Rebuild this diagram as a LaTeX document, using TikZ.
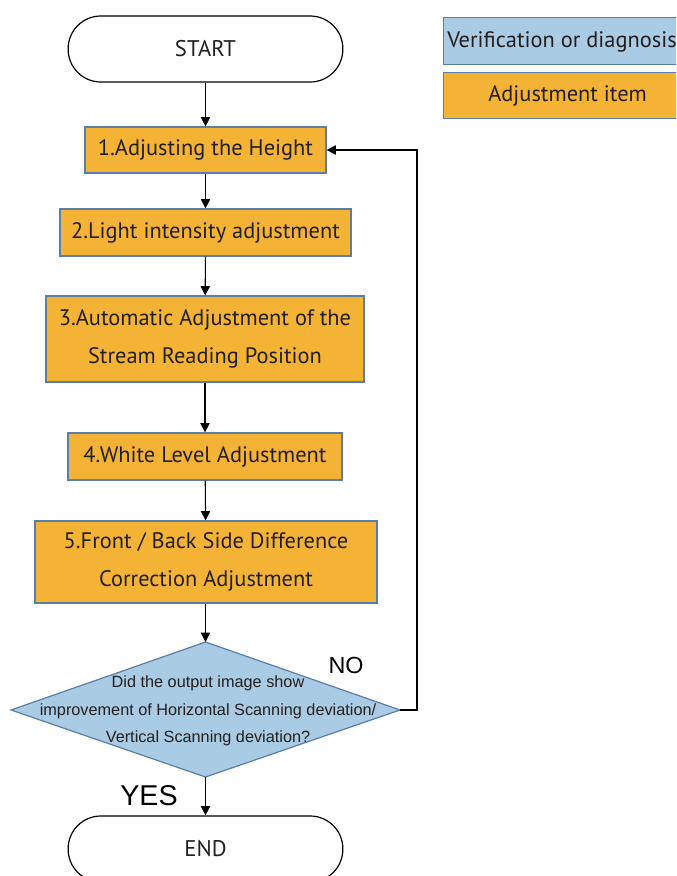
\documentclass[tikz,border=0pt]{standalone}
\usepackage{fontspec}
\setmainfont{PT Sans}
\newfontfamily\arialf{Liberation Sans}
\usetikzlibrary{shapes.geometric,arrows.meta}
\definecolor{adj}{HTML}{F5B335}
\definecolor{ver}{HTML}{A9CBE3}
\definecolor{bord}{HTML}{5A7FA6}
\definecolor{txt}{HTML}{231F20}
\begin{document}
\begin{tikzpicture}[x=0.75pt,y=-0.75pt,
  adjbox/.style={draw=bord,fill=adj,line width=0.9pt,text=txt,font=\fontsize{16.8}{28}\selectfont,align=center,inner sep=0pt},
  verbox/.style={draw=bord,fill=ver,line width=0.9pt,text=txt,font=\fontsize{16.8}{28}\selectfont,align=center,inner sep=0pt},
  term/.style={draw=black,line width=0.9pt,rounded corners=24.5pt,text=txt,font=\fontsize{17}{19}\selectfont,inner sep=0pt},
  conn/.style={draw=black,line width=0.8pt,-{Triangle[length=7pt,width=7pt]}}]
\clip (0,0) rectangle (676,876);
\useasboundingbox (0,0) rectangle (676,876);
% terminals
\node[term,minimum width=206pt,minimum height=49.5pt] (start) at (205.5,49) {START};
\node[term,minimum width=206pt,minimum height=49.5pt] (end) at (205.5,849) {END};
% boxes
\node[adjbox,minimum width=180.75pt,minimum height=34.5pt] (b1) at (205.5,150) {1.Adjusting the Height};
\node[adjbox,minimum width=218.25pt,minimum height=35.25pt] (b2) at (205.5,232.5) {2.Light intensity adjustment};
\node[adjbox,minimum width=238.5pt,minimum height=64.5pt] (b3) at (205,339) {3.Automatic Adjustment of the\\Stream Reading Position};
\node[adjbox,minimum width=205.5pt,minimum height=35.25pt] (b4) at (205,456.5) {4.White Level Adjustment};
\node[adjbox,minimum width=256.5pt,minimum height=61.5pt] (b5) at (206,562) {5.Front / Back Side Difference\\Correction Adjustment};
% decision
\path[draw=bord,fill=ver,line width=0.9pt] (205.5,642) coordinate (dt) -- (400,710) coordinate (dr) -- (205.5,777) coordinate (db) -- (11,710) coordinate (dl) -- cycle;
\node[text=txt,font=\arialf\fontsize{12.2}{20.5}\selectfont,align=center] (dtext) at (208,711) {Did the output image show\\improvement of Horizontal Scanning deviation/\\Vertical Scanning deviation?};
% legend
\node[verbox,minimum width=186pt,minimum height=35.25pt,anchor=north west] (lv) at (443,17) {};
\node[text=txt,font=\fontsize{16.8}{19}\selectfont,anchor=west,inner sep=0pt] (lvt) at (447,41.5) {Verification or diagnosis};
\node[adjbox,minimum width=186pt,minimum height=34.5pt,anchor=north west] (la) at (443,72) {Adjustment item};
% labels
\node[font=\arialf\fontsize{17.5}{19}\selectfont] (no) at (346,665) {NO};
\node[font=\arialf\fontsize{21.5}{23}\selectfont] (yes) at (149,796) {YES};
% connectors
\draw[conn] (start) -- (b1);
\draw[conn] (b1) -- (b2);
\draw[conn] (b2) -- (b3);
\draw[conn] (b3) -- (b4);
\draw[conn] (b4) -- (b5);
\draw[conn] (b5.south -| dt) -- (dt);
\draw[conn] (db) -- (end);
\coordinate (fb1) at (417,710);
\coordinate (fb2) at (417,150);
\draw[conn] (dr) -- (fb1) -- (fb2) -- (b1.east);
\end{tikzpicture}
\end{document}
